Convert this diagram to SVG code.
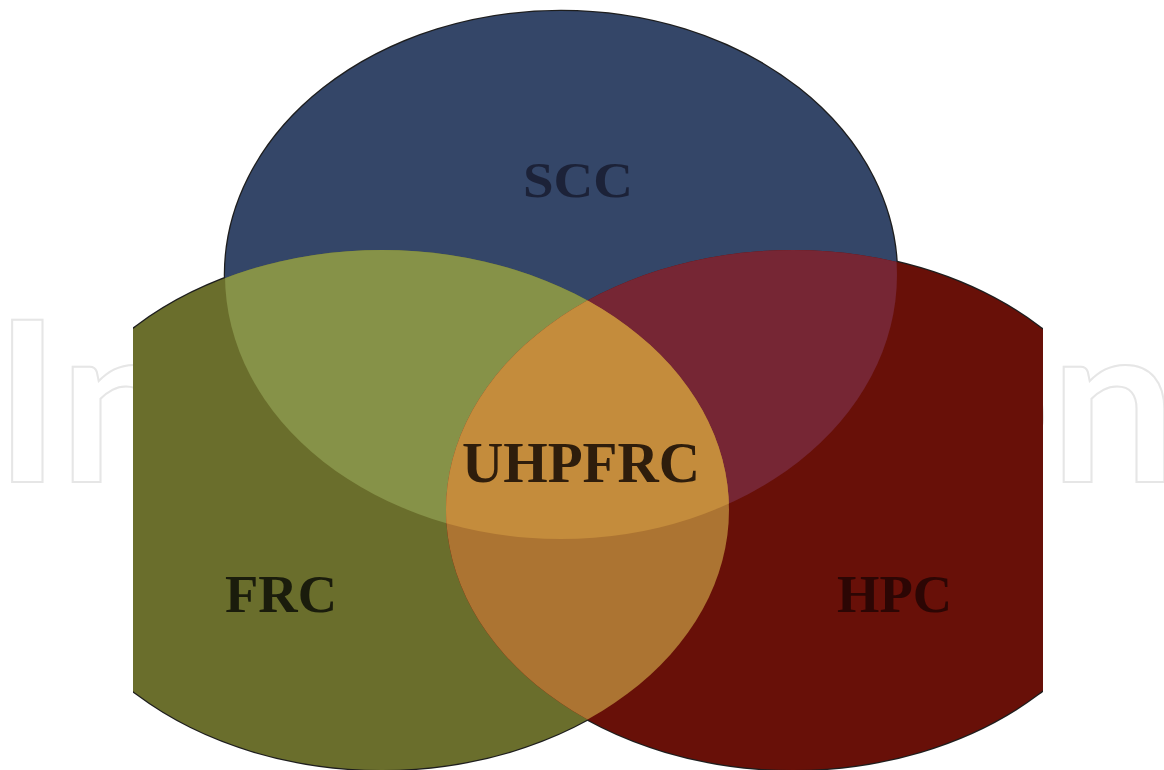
<svg xmlns="http://www.w3.org/2000/svg" width="1164" height="770" viewBox="0 0 1164 770">
<style>
.lbl{font-family:"Liberation Serif","Times New Roman",serif;font-weight:bold}
.wm{font-family:Lato,"Liberation Sans",sans-serif;font-weight:700;font-size:225px;fill:none;stroke:#e6e6e6;stroke-width:2}
</style>
<defs>
<ellipse id="eB" cx="561" cy="275" rx="336" ry="264"/>
<ellipse id="eG" cx="382" cy="510" rx="347" ry="260"/>
<ellipse id="eR" cx="793" cy="510" rx="347" ry="260"/>
<clipPath id="cB"><use href="#eB"/></clipPath>
<clipPath id="cG"><use href="#eG"/></clipPath>
<clipPath id="frame"><rect x="133" y="0" width="910" height="770"/></clipPath>
</defs>
<rect width="1164" height="770" fill="#ffffff"/>
<g id="watermark">
  <text class="wm" x="-6" y="482">In</text>
  <text class="wm" x="1177" y="482" text-anchor="end">en</text>
</g>
<g clip-path="url(#frame)">
  <g fill="none" stroke="#1e1e1e" stroke-width="2.5">
    <use href="#eB"/><use href="#eG"/><use href="#eR"/>
  </g>
  <g id="node-scc">
    <use href="#eB" fill="#344668"/>
    <text class="lbl" x="523" y="197" font-size="50" textLength="110" lengthAdjust="spacingAndGlyphs" fill="#1c2238">SCC</text>
  </g>
  <g id="node-frc">
    <use href="#eG" fill="#6a6e2c"/>
    <text class="lbl" x="225" y="612" font-size="53" textLength="112" lengthAdjust="spacingAndGlyphs" fill="#1a1c0c">FRC</text>
  </g>
  <g id="node-hpc">
    <use href="#eR" fill="#681008"/>
    <text class="lbl" x="837" y="612" font-size="53" textLength="115" lengthAdjust="spacingAndGlyphs" fill="#2c0604">HPC</text>
  </g>
  <g id="overlaps">
    <use href="#eG" clip-path="url(#cB)" fill="#869248"/>
    <use href="#eR" clip-path="url(#cB)" fill="#762634"/>
    <use href="#eR" clip-path="url(#cG)" fill="#ac7432"/>
  </g>
  <g id="node-uhpfrc">
    <g clip-path="url(#cB)"><use href="#eR" clip-path="url(#cG)" fill="#c48c3c"/></g>
    <text class="lbl" x="462" y="482" font-size="56" textLength="238" lengthAdjust="spacingAndGlyphs" fill="#2e1d0c">UHPFRC</text>
  </g>
</g>
<g id="connectors"/>
</svg>
